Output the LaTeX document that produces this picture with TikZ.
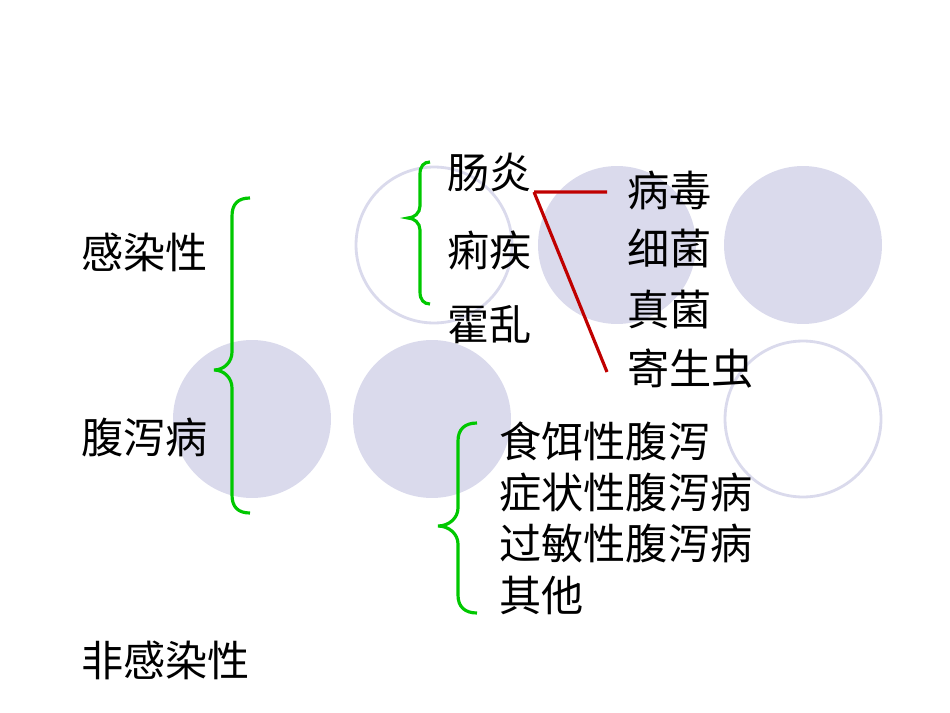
\documentclass[tikz,border=0pt]{standalone}
\usepackage{fontspec}
\newfontfamily\cjk{Noto Sans CJK SC}
\usetikzlibrary{positioning}

\definecolor{bubblefill}{RGB}{218,218,236}
\definecolor{bracegreen}{RGB}{0,200,0}
\definecolor{linkred}{RGB}{192,0,0}

\begin{document}
\begin{tikzpicture}[x=0.02cm,y=-0.02cm,
        word/.style={anchor=west,inner sep=0pt,font=\cjk\fontsize{24}{28}\selectfont},
        bubble/.style={circle,minimum size=3.16cm,inner sep=0pt,fill=bubblefill},
        ring/.style={circle,minimum size=3.12cm,inner sep=0pt,draw=bubblefill,line width=1.6pt},
        bracket/.style={draw=bracegreen,line width=1.8pt},
        link/.style={draw=linkred,line width=1.8pt}]

            % \draw [help lines] (0,0) grid [step=50] (950,713);
            \useasboundingbox (0,0) rectangle (950,713);

            % background circles
            \path   (434,245) node (ringa) [ring] {}
                    (617,245) node (bubblea) [bubble] {}
                    (803,245) node (bubbleb) [bubble] {}
                    (252,419) node (bubblec) [bubble] {}
                    (432,419) node (bubbled) [bubble] {}
                    (803,419) node (ringb) [ring] {};

            % words
            \path   (81,252) node (ganran) [word] {感染性}
                    (81,437) node (fuxie) [word] {腹泻病}
                    (81,660) node (feiganran) [word] {非感染性}
                    (447,172) node (changyan) [word] {肠炎}
                    (447,250) node (liji) [word] {痢疾}
                    (447,325) node (huoluan) [word] {霍乱}
                    (627,190) node (bingdu) [word] {病毒}
                    (627,248) node (xijun) [word] {细菌}
                    (627,309) node (zhenjun) [word] {真菌}
                    (627,369) node (jisheng) [word] {寄生虫}
                    (499,441) node (shier) [word] {食饵性腹泻}
                    (499,492) node (zhengzhuang) [word] {症状性腹泻病}
                    (499,543) node (guomin) [word] {过敏性腹泻病}
                    (499,595) node (qita) [word] {其他};

            % braces
            \draw[bracket] (250,198) .. controls (238,198) and (232,204) .. (232,216)
                -- (232,352) .. controls (232,362) and (224,370) .. (214,370)
                .. controls (224,370) and (232,378) .. (232,388)
                -- (232,495) .. controls (232,507) and (238,513) .. (250,513);
            \draw[bracket] (430,162) .. controls (424,162) and (420,166) .. (420,174)
                -- (420,206) .. controls (420,213) and (414,218) .. (408,218)
                .. controls (414,218) and (420,223) .. (420,230)
                -- (420,292) .. controls (420,300) and (424,304) .. (430,304);
            \draw[bracket] (477,423) .. controls (465,423) and (458,429) .. (458,441)
                -- (458,508) .. controls (458,518) and (449,526) .. (438,526)
                .. controls (449,526) and (458,534) .. (458,544)
                -- (458,595) .. controls (458,607) and (465,613) .. (477,613);

            % links
            \coordinate (fork) at (534,192);
            \draw[link] (fork) -- ([xshift=-0.4cm,yshift=-0.04cm]bingdu.west);
            \draw[link] (fork) -- ([xshift=-0.4cm,yshift=-0.06cm]jisheng.west);

\end{tikzpicture}
\end{document}
